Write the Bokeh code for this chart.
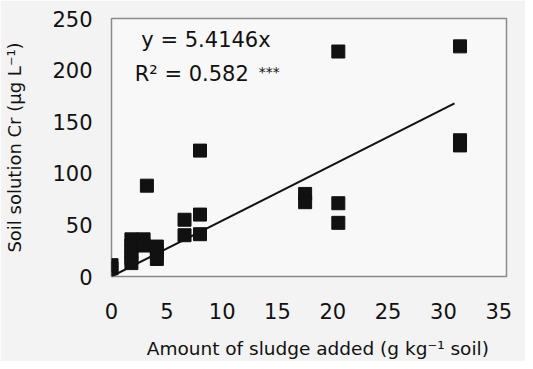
from bokeh.plotting import figure
from bokeh.models import Range1d, Label, FixedTicker
from bokeh.embed import file_html
from bokeh.resources import INLINE

# data
sludge = [0, 0, 1.8, 1.8, 1.8, 1.8, 1.8, 2.9, 2.9, 3.2, 4.1, 4.1, 4.1,
          6.6, 6.6, 8, 8, 8, 17.5, 17.5, 20.5, 20.5, 20.5,
          31.5, 31.5, 31.5]
cr = [8, 11, 36, 30, 24, 18, 13, 36, 30, 88, 29, 23, 17,
      55, 40, 122, 60, 41, 80, 72, 218, 71, 52,
      223, 132, 127]
slope = 5.4146
fit_x = [0, 31]
fit_y = [slope * v for v in fit_x]
x_ticks = [0, 5, 10, 15, 20, 25, 30, 35]
y_ticks = [0, 50, 100, 150, 200, 250]

FONT = "DejaVu Sans"
p = figure(width=525, height=361, output_backend="svg", toolbar_location=None,
           x_range=Range1d(0, 35.7), y_range=Range1d(0, 250),
           min_border_left=111, min_border_right=19, min_border_top=18,
           min_border_bottom=82)
p.background_fill_color = "#f8f8f8"
p.border_fill_color = "#f3f3f3"
p.outline_line_color = "#8a8a8a"
p.outline_line_width = 1.5
p.grid.visible = False

for ax in (p.xaxis[0], p.yaxis[0]):
    ax.axis_line_color = None
    ax.major_tick_line_color = None
    ax.minor_tick_line_color = None
    ax.major_label_text_font = FONT
    ax.major_label_text_font_size = "21px"
    ax.major_label_text_color = "#111111"
    ax.axis_label_text_font = FONT
    ax.axis_label_text_font_style = "normal"
    ax.axis_label_text_color = "#111111"

p.xaxis.ticker = FixedTicker(ticks=x_ticks)
p.yaxis.ticker = FixedTicker(ticks=y_ticks)
p.xaxis.major_label_standoff = 20
p.yaxis.major_label_standoff = 13
p.xaxis.axis_label = "\u00a0\u00a0\u00a0Amount of sludge added (g kg\u207b\u00b9 soil)"
p.yaxis.axis_label = "Soil solution Cr (\u03bcg L\u207b\u00b9)"
p.xaxis.axis_label_text_font_size = "18.5px"
p.yaxis.axis_label_text_font_size = "18px"
p.xaxis.axis_label_standoff = 16
p.yaxis.axis_label_standoff = 24

p.line(fit_x, fit_y, line_color="#111111", line_width=2)
p.scatter(sludge, cr, marker="square", size=13, fill_color="#111111",
          line_color="#111111")

p.add_layout(Label(x=2.7, y=229, text="y = 5.4146x", text_font=FONT,
                   text_font_size="21px", text_color="#111111",
                   text_baseline="middle"))
p.add_layout(Label(x=2.1, y=196, text="R\u00b2 = 0.582", text_font=FONT,
                   text_font_size="21px", text_color="#111111",
                   text_baseline="middle"))
p.add_layout(Label(x=13.3, y=198, text="***", text_font=FONT,
                   text_font_size="14px", text_color="#111111",
                   text_baseline="middle"))

open("out.html", "w").write(file_html(p, INLINE))
